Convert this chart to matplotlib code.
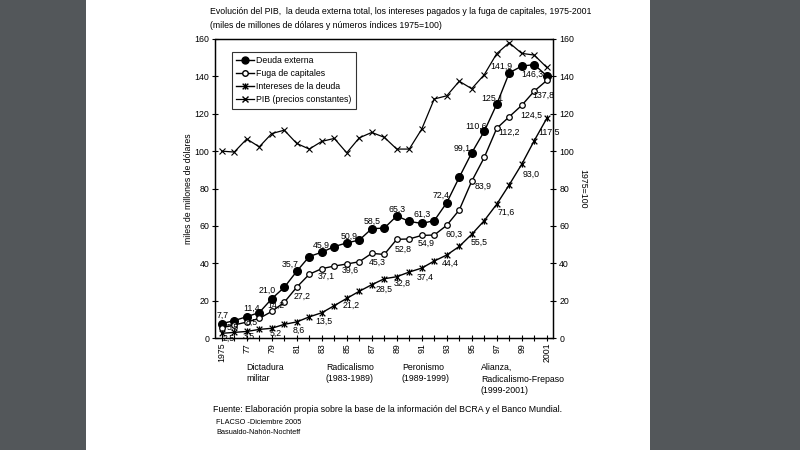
import matplotlib
matplotlib.use("Agg")
import matplotlib.pyplot as plt
from matplotlib.path import Path
from matplotlib.lines import Line2D
from matplotlib.patches import Rectangle

plt.rcParams["font.family"] = ["Liberation Sans Narrow", "Liberation Sans", "DejaVu Sans"]

years = list(range(1975, 2002))
tick_years = list(range(1975, 2002, 2))
tick_labels = ["1975", "77", "79", "81", "83", "85", "87", "89", "91", "93", "95", "97", "99", "2001"]

deuda = [7.7, 9.3, 11.4, 13.6, 21.0, 27.1, 35.7, 43.6, 45.9, 48.9, 50.9, 52.4, 58.5, 58.8,
         65.3, 62.4, 61.3, 62.8, 72.4, 86.0, 99.1, 110.6, 125.1, 141.9, 145.5, 146.3, 140.3]
fuga = [5.5, 7.0, 8.5, 10.5, 14.2, 19.1, 27.2, 34.1, 37.1, 38.5, 39.6, 40.8, 45.3, 44.7,
        52.8, 53.0, 54.9, 55.1, 60.3, 68.5, 83.9, 96.6, 112.2, 118.4, 124.5, 132.1, 137.8]
intereses = [2.5, 3.0, 3.5, 4.6, 5.2, 7.3, 8.6, 11.3, 13.5, 17.3, 21.2, 25.0, 28.5, 31.7,
             32.8, 35.3, 37.4, 41.2, 44.4, 49.0, 55.5, 62.8, 71.6, 82.0, 93.0, 105.6, 117.5]
pib = [100.0, 99.5, 106.5, 102.3, 109.4, 111.2, 104.1, 101.1, 105.2, 106.8, 99.1, 107.1, 110.0,
       107.4, 101.1, 101.1, 111.8, 127.9, 129.6, 137.4, 133.4, 140.9, 152.2, 158.0, 152.3, 151.4, 144.8]

# etiquetas: (año, texto, dx px, dy px)
deuda_lbl = [(1975, "7,7", 1, -8), (1977, "11,4", 5, -8), (1979, "21,0", -5, -8),
             (1981, "35,7", -7, -7), (1983, "45,9", 0, -7), (1985, "50,9", 2, -7),
             (1987, "58,5", 0, -7), (1989, "65,3", 0, -7), (1991, "61,3", 0, -9),
             (1993, "72,4", -6, -7), (1995, "99,1", -10, -4), (1996, "110,6", -8, -5),
             (1997, "125,1", -4, -6), (1998, "141,9", -8, -7), (2000, "146,3", -2, 10)]
fuga_lbl = [(1975, "5,5", 11, 0), (1977, "8,5", 5, 0), (1979, "14,2", 4, -6),
            (1981, "27,2", 5, 9), (1983, "37,1", 4, 8), (1985, "39,6", 4, 6),
            (1987, "45,3", 6, 9), (1989, "52,8", 6, 10), (1991, "54,9", 4, 8),
            (1993, "60,3", 7, 9), (1995, "83,9", 11, 5), (1997, "112,2", 12, 4),
            (1999, "124,5", 10, 10), (2001, "137,8", -3, 15)]
int_lbl = [(1975, "2,5", 7, 5), (1977, "3,5", 2, 5), (1979, "5,2", 4, 5),
           (1981, "8,6", 2, 8), (1983, "13,5", 2, 9), (1985, "21,2", 4, 7),
           (1987, "28,5", 12, 5), (1989, "32,8", 5, 7), (1991, "37,4", 3, 9),
           (1993, "44,4", 4, 8), (1995, "55,5", 7, 8), (1997, "71,6", 9, 8),
           (1999, "93,0", 9, 10), (2001, "117,5", 2, 14)]

# marcador estrella (X con barra vertical)
star = Path([(-1, -1), (1, 1), (-1, 1), (1, -1), (0, -1.1), (0, 1.1)],
            [Path.MOVETO, Path.LINETO, Path.MOVETO, Path.LINETO, Path.MOVETO, Path.LINETO])

fig = plt.figure(figsize=(8, 4.5), dpi=100)
fig.patch.set_facecolor("#53575a")
fig.patches.append(Rectangle((86 / 800, 0), (650 - 86) / 800, 1, transform=fig.transFigure,
                             facecolor="white", edgecolor="none", zorder=-5))

ax = fig.add_axes([215.5 / 800, 1 - 338 / 450, (553 - 215.5) / 800, 299 / 450])
ax.set_facecolor("none")
ax2 = ax.twinx()

ax.plot(years, deuda, color="black", lw=1, marker="o", ms=5.5, mfc="black", mec="black")
ax.plot(years, fuga, color="black", lw=1, marker="o", ms=4, mfc="white", mec="black", mew=0.9)
ax.plot(years, intereses, color="black", lw=1, marker=star, ms=4.5, mew=0.9)
ax2.plot(years, pib, color="black", lw=0.9, marker="x", ms=5, mew=0.8)

fs = 6.3
for data, lbls in [(deuda, deuda_lbl), (fuga, fuga_lbl), (intereses, int_lbl)]:
    for yr, txt, dx, dy in lbls:
        ax.annotate(txt, (yr, data[yr - 1975]), xytext=(dx * 0.72, -dy * 0.72),
                    textcoords="offset points", ha="center", va="center", fontsize=fs)

for a in (ax, ax2):
    a.set_xlim(1974.5, 2001.5)
    a.set_ylim(0, 160)
    a.set_yticks(range(0, 161, 20))
    a.tick_params(axis="y", direction="inout", length=5, width=0.8, labelsize=fs, pad=2)
    for s in a.spines.values():
        s.set_linewidth(0.9)

ax.set_xticks(tick_years)
ax.set_xticklabels(tick_labels, rotation=90, fontsize=fs)
ax.set_xticks(years, minor=True)
ax.tick_params(axis="x", which="both", direction="inout", length=5, width=0.8, pad=1)

ax.set_ylabel("miles de millones de dólares", fontsize=fs, labelpad=1)
ax2.set_ylabel("1975=100", fontsize=fs, rotation=-90, labelpad=3, va="bottom")

handles = [
    Line2D([], [], color="black", lw=1, marker="o", ms=5, mfc="black"),
    Line2D([], [], color="black", lw=1, marker="o", ms=4, mfc="white"),
    Line2D([], [], color="black", lw=1, marker=star, ms=4.5),
    Line2D([], [], color="black", lw=0.9, marker="x", ms=5),
]
names = ["Deuda externa", "Fuga de capitales", "Intereses de la deuda", "PIB (precios constantes)"]
leg = ax.legend(handles, names, loc="upper left", bbox_to_anchor=(232 / 800, 1 - 52 / 450),
                bbox_transform=fig.transFigure, fontsize=fs, frameon=True, fancybox=False,
                edgecolor="black", handlelength=2.0, handletextpad=0.3, labelspacing=0.45,
                borderpad=0.5, borderaxespad=0)
leg.get_frame().set_linewidth(0.8)

def ftext(x, y, s, **kw):
    fig.text(x / 800, 1 - y / 450, s, fontsize=kw.pop("size", fs), va="center", ha="left", **kw)

ftext(210, 12, "Evolución del PIB,  la deuda externa total, los intereses pagados y la fuga de capitales, 1975-2001")
ftext(210, 26, "(miles de millones de dólares y números índices 1975=100)")
ftext(246, 373, "Dictadura\nmilitar", linespacing=1.4)
ftext(326, 373, "Radicalismo\n(1983-1989)", linespacing=1.4)
ftext(402, 373, "Peronismo\n(1989-1999)", linespacing=1.4)
ftext(481, 379, "Alianza,\nRadicalismo-Frepaso\n(1999-2001)", linespacing=1.4)
ftext(213, 410, "Fuente: Elaboración propia sobre la base de la información del BCRA y el Banco Mundial.")
ftext(216, 423, "FLACSO -Diciembre 2005", size=5.3)
ftext(216, 433, "Basualdo-Nahón-Nochteff", size=5.3)

fig.savefig("out.png", dpi=100)
